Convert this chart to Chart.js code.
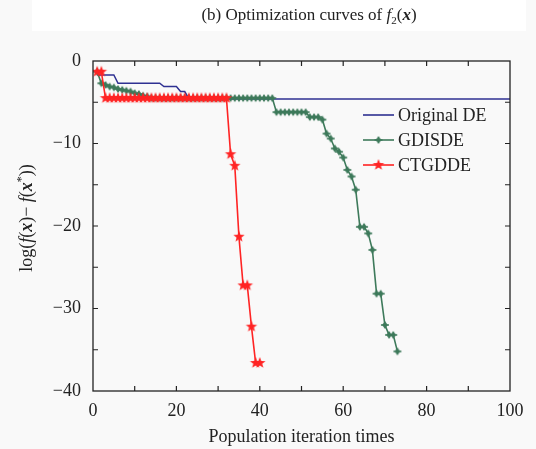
<!DOCTYPE html>
<html>
<head>
<meta charset="utf-8">
<script src="https://cdn.jsdelivr.net/npm/chart.js@4.4.1/dist/chart.umd.min.js"></script>
<style>
  html, body { margin: 0; padding: 0; background: #f9f9f9; }
  canvas { display: block; }
</style>
</head>
<body>
<canvas id="curves" width="536" height="449"></canvas>
<script>
// Original DE: break points of the stepped curve
const deIter = [1, 5, 6, 16, 17, 20, 21, 22, 23, 100];
const deVals = [-1.7, -1.7, -2.7, -2.7, -3.1, -3.1, -3.7, -3.7, -4.6, -4.6];

// GDISDE, one value per iteration (1..73)
const gdisdeVals = [
  -1.3, -2.7, -2.9, -3.1, -3.2, -3.4, -3.5, -3.6, -3.7, -3.9,
  -4.0, -4.2, -4.3, -4.5, -4.5, -4.5, -4.5, -4.5, -4.5, -4.5,
  -4.5, -4.5, -4.5, -4.5, -4.5, -4.5, -4.5, -4.5, -4.5, -4.5,
  -4.5, -4.5, -4.5, -4.5, -4.5, -4.5, -4.5, -4.5, -4.5, -4.5,
  -4.5, -4.5, -4.5, -6.2, -6.2, -6.2, -6.2, -6.2, -6.2, -6.2,
  -6.2, -6.8, -6.8, -6.8, -7.1, -8.8, -9.4, -10.6, -11.0, -11.7,
  -13.2, -14.0, -15.6, -20.1, -20.1, -20.9, -22.9, -28.2, -28.2, -32.0,
  -33.2, -33.2, -35.2
];

// CTGDDE, one value per iteration (1..40)
const ctgddeVals = [
  -1.3, -1.3, -4.5, -4.5, -4.5, -4.5, -4.5, -4.5, -4.5, -4.5,
  -4.5, -4.5, -4.5, -4.5, -4.5, -4.5, -4.5, -4.5, -4.5, -4.5,
  -4.5, -4.5, -4.5, -4.5, -4.5, -4.5, -4.5, -4.5, -4.5, -4.5,
  -4.5, -4.5, -11.3, -12.7, -21.3, -27.2, -27.2, -32.2, -36.6, -36.6
];

const seriesNames = ['Original DE', 'GDISDE', 'CTGDDE'];
const xTicks = [0, 20, 40, 60, 80, 100];
const yTicks = [0, -10, -20, -30, -40];

const SERIF = '"Liberation Serif", "DejaVu Serif", serif';
const BLUE = '#2f3192';
const GREEN = '#3e7a5b';
const RED = '#ff2424';

function starMarker(r, color) {
  const c = document.createElement('canvas');
  c.width = c.height = r * 2 + 2;
  const g = c.getContext('2d');
  g.fillStyle = color;
  g.beginPath();
  for (let i = 0; i < 10; i++) {
    const rad = i % 2 === 0 ? r : r * 0.42;
    const a = -Math.PI / 2 + i * Math.PI / 5;
    const px = r + 1 + rad * Math.cos(a);
    const py = r + 1 + rad * Math.sin(a);
    if (i === 0) g.moveTo(px, py); else g.lineTo(px, py);
  }
  g.closePath();
  g.fill();
  return c;
}

function plusDiamond(r, color) {
  const c = document.createElement('canvas');
  c.width = c.height = r * 2 + 2;
  const g = c.getContext('2d');
  const m = r + 1;
  g.fillStyle = color;
  g.beginPath();
  g.moveTo(m, m - r); g.lineTo(m + r * 0.7, m); g.lineTo(m, m + r); g.lineTo(m - r * 0.7, m);
  g.closePath();
  g.fill();
  g.fillRect(m - r, m - 0.75, r * 2, 1.5);
  return c;
}

const redStar = starMarker(6, RED);
const greenMark = plusDiamond(4, GREEN);

const deData = deIter.map((x, i) => ({ x: x, y: deVals[i] }));
const gdisdeData = gdisdeVals.map((y, i) => ({ x: i + 1, y: y }));
const ctgddeData = ctgddeVals.map((y, i) => ({ x: i + 1, y: y }));

function minus(v) {
  return v < 0 ? '\u2212' + Math.abs(v) : String(v);
}

// draws a row of text pieces with their own fonts, returns end x
function drawPieces(ctx, pieces, x, y) {
  pieces.forEach(p => {
    ctx.font = p.font;
    ctx.fillText(p.t, x, y + (p.dy || 0));
    x += ctx.measureText(p.t).width;
  });
  return x;
}
function piecesWidth(ctx, pieces) {
  let w = 0;
  pieces.forEach(p => { ctx.font = p.font; w += ctx.measureText(p.t).width; });
  return w;
}

const framePlugin = {
  id: 'frame',
  beforeDraw(chart) {
    const ctx = chart.ctx;
    ctx.save();
    ctx.fillStyle = '#f9f9f9';
    ctx.fillRect(0, 0, chart.width, chart.height);
    ctx.fillStyle = '#ffffff';
    ctx.fillRect(32, 0, 494, 31);
    ctx.restore();
  },
  afterDatasetsDraw(chart) {
    const ctx = chart.ctx;
    const a = chart.chartArea;
    const xs = chart.scales.x, ys = chart.scales.y;
    ctx.save();
    ctx.strokeStyle = '#222';
    ctx.lineWidth = 1.3;
    ctx.strokeRect(a.left, a.top, a.right - a.left, a.bottom - a.top);
    ctx.lineWidth = 1.2;
    ctx.beginPath();
    for (let v = 10; v < 100; v += 10) {
      const px = xs.getPixelForValue(v);
      ctx.moveTo(px, a.bottom); ctx.lineTo(px, a.bottom - 5);
      ctx.moveTo(px, a.top); ctx.lineTo(px, a.top + 5);
    }
    for (let v = -35; v < 0; v += 5) {
      const py = ys.getPixelForValue(v);
      ctx.moveTo(a.left, py); ctx.lineTo(a.left + 5, py);
      ctx.moveTo(a.right, py); ctx.lineTo(a.right - 5, py);
    }
    ctx.stroke();

    // legend
    const ds = chart.data.datasets;
    const rows = [115, 140, 165];
    ctx.textBaseline = 'middle';
    ctx.textAlign = 'left';
    ds.forEach((d, k) => {
      const y = rows[k];
      ctx.strokeStyle = d.borderColor;
      ctx.lineWidth = 1.6;
      ctx.beginPath();
      ctx.moveTo(363, y); ctx.lineTo(394, y);
      ctx.stroke();
      if (d.pointStyle && typeof d.pointStyle === 'object') {
        const img = d.pointStyle;
        ctx.drawImage(img, 378.5 - img.width / 2, y - img.height / 2);
      }
      ctx.fillStyle = '#222';
      ctx.font = '18px ' + SERIF;
      ctx.fillText(d.label, 398, y + 1);
    });

    // title
    const reg = '17px ' + SERIF;
    const it = 'italic 17px ' + SERIF;
    const bi = 'italic bold 17px ' + SERIF;
    const sub = '11px ' + SERIF;
    const title = [
      { t: '(b) Optimization curves of ', font: reg },
      { t: 'f', font: it },
      { t: '2', font: sub, dy: 4 },
      { t: '(', font: reg },
      { t: 'x', font: bi },
      { t: ')', font: reg }
    ];
    ctx.fillStyle = '#222';
    ctx.textBaseline = 'alphabetic';
    const tw = piecesWidth(ctx, title);
    drawPieces(ctx, title, 309 - tw / 2, 20);

    // y axis title
    const r18 = '18px ' + SERIF;
    const i18 = 'italic 18px ' + SERIF;
    const b18 = 'italic bold 18px ' + SERIF;
    const s12 = '12px ' + SERIF;
    const ylab = [
      { t: 'log(', font: r18 },
      { t: 'f', font: i18 },
      { t: '(', font: r18 },
      { t: 'x', font: b18 },
      { t: ')\u2212 ', font: r18 },
      { t: 'f', font: i18 },
      { t: '(', font: r18 },
      { t: 'x', font: b18 },
      { t: '*', font: s12, dy: -7 },
      { t: '))', font: r18 }
    ];
    ctx.translate(32, 218);
    ctx.rotate(-Math.PI / 2);
    const yw = piecesWidth(ctx, ylab);
    drawPieces(ctx, ylab, -yw / 2, 0);
    ctx.restore();
  }
};

new Chart(document.getElementById('curves'), {
  type: 'line',
  data: {
    datasets: [
      {
        label: seriesNames[0],
        data: deData,
        borderColor: BLUE,
        borderWidth: 1.5,
        pointRadius: 0,
        order: 3
      },
      {
        label: seriesNames[1],
        data: gdisdeData,
        borderColor: GREEN,
        borderWidth: 1.6,
        pointStyle: greenMark,
        pointRadius: 4,
        order: 2
      },
      {
        label: seriesNames[2],
        data: ctgddeData,
        borderColor: RED,
        borderWidth: 1.6,
        pointStyle: redStar,
        pointRadius: 6,
        order: 1
      }
    ]
  },
  options: {
    responsive: false,
    animation: false,
    devicePixelRatio: 1,
    layout: { padding: { top: 61, right: 26, left: 0, bottom: 0 } },
    plugins: {
      legend: { display: false },
      tooltip: { enabled: false }
    },
    elements: { line: { tension: 0 } },
    scales: {
      x: {
        type: 'linear',
        min: 0,
        max: 100,
        afterFit(scale) { scale.height = 58; },
        grid: { display: false },
        border: { display: false },
        ticks: {
          stepSize: 10,
          autoSkip: false,
          maxRotation: 0,
          padding: 1,
          color: '#222',
          font: { family: SERIF, size: 18 },
          callback: v => xTicks.includes(v) ? String(v) : ''
        },
        title: {
          display: true,
          text: 'Population iteration times',
          color: '#222',
          font: { family: SERIF, size: 18 },
          padding: { top: 4, bottom: 1 }
        }
      },
      y: {
        type: 'linear',
        min: -40,
        max: 0,
        afterFit(scale) { scale.width = 93; },
        grid: { display: false },
        border: { display: false },
        ticks: {
          stepSize: 5,
          autoSkip: false,
          padding: 4,
          color: '#222',
          font: { family: SERIF, size: 18 },
          callback: v => yTicks.includes(v) ? minus(v) : ''
        }
      }
    }
  },
  plugins: [framePlugin]
});
</script>
</body>
</html>
